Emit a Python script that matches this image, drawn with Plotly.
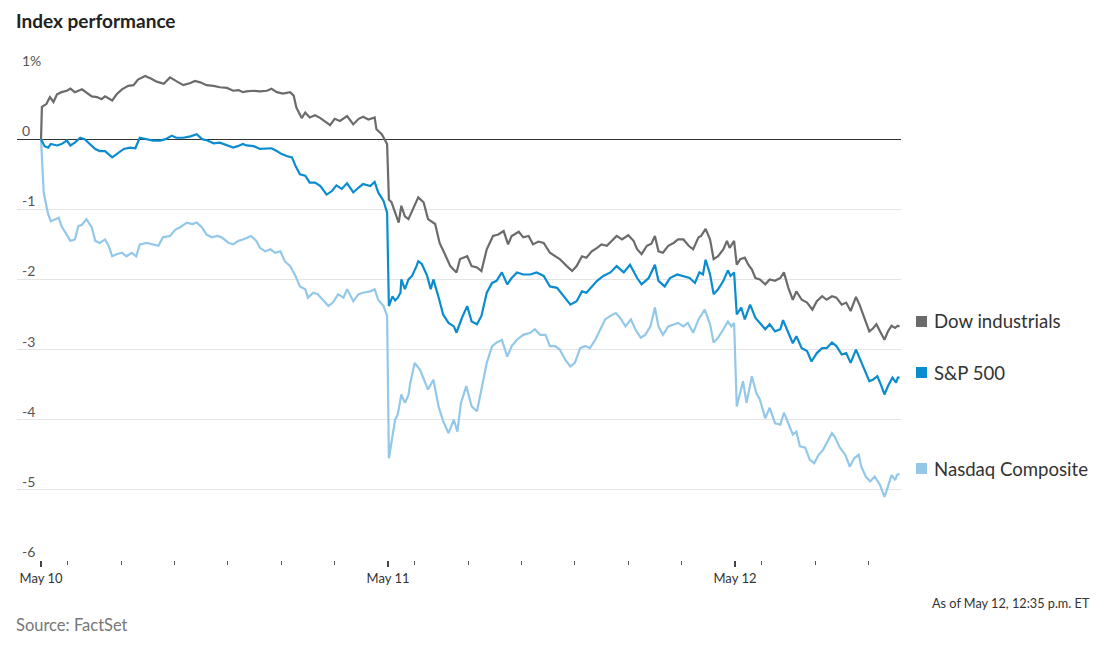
import plotly.graph_objects as go

# ---------------- data (trading minutes since May 10 open, % change) ----------------
day_labels = ["May 10", "May 11", "May 12"]
day_open_min = [0, 390, 780]
hour_marks = [10, 11, 12, 13, 14, 15]
last_min = 965  # May 12, 12:35 p.m.

y_ticks = [1, 0, -1, -2, -3, -4, -5, -6]
y_labels = ["1%", "0", "-1", "-2", "-3", "-4", "-5", "-6"]

dow_min = [0, 1, 6, 10, 14, 18, 23, 29, 33, 38, 46, 51, 57, 63, 68, 72, 80, 85, 91, 98,
           104, 109, 117, 124, 130, 138, 145, 153, 160, 168, 173, 179, 186, 194, 201, 209,
           216, 222, 227, 231, 239, 246, 254, 259, 265, 272, 280, 284, 287, 293, 297, 302,
           308, 314, 319, 325, 330, 336, 344, 351, 357, 362, 368, 375, 377, 383, 389,
           391, 394, 398, 402, 405, 409, 413, 417, 424, 430, 435, 443, 448, 454, 460, 467,
           471, 479, 484, 490, 495, 501, 508, 514, 520, 525, 529, 537, 542, 548, 553, 559,
           565, 572, 578, 583, 591, 597, 602, 608, 613, 619, 625, 630, 636, 641, 647, 653,
           660, 666, 670, 675, 681, 686, 690, 694, 699, 705, 711, 716, 722, 728, 733, 739,
           742, 747, 752, 756, 761, 767, 771, 774, 779,
           782, 786, 791, 795, 799, 803, 808, 814, 819, 825, 831, 835, 840, 845, 849, 855,
           861, 867, 872, 878, 883, 889, 894, 900, 905, 910, 916, 920, 926, 931, 935, 939,
           943, 948, 952, 956, 960, 963, 965]
dow_pct = [0, 0.46, 0.50, 0.60, 0.53, 0.64, 0.67, 0.69, 0.72, 0.67, 0.71, 0.67, 0.61, 0.60,
           0.57, 0.61, 0.55, 0.64, 0.71, 0.76, 0.77, 0.85, 0.90, 0.86, 0.82, 0.79, 0.88,
           0.82, 0.77, 0.80, 0.83, 0.81, 0.77, 0.76, 0.74, 0.73, 0.69, 0.70, 0.67, 0.68,
           0.69, 0.68, 0.69, 0.72, 0.67, 0.65, 0.67, 0.62, 0.45, 0.30, 0.38, 0.31, 0.34,
           0.30, 0.26, 0.20, 0.29, 0.26, 0.33, 0.21, 0.29, 0.32, 0.28, 0.31, 0.14, 0.07, -0.07,
           -0.86, -0.90, -1.04, -1.19, -0.95, -1.10, -1.14, -1.02, -0.83, -0.90, -1.14, -1.21,
           -1.48, -1.64, -1.81, -1.90, -1.71, -1.67, -1.81, -1.83, -1.88, -1.57, -1.38, -1.36,
           -1.31, -1.50, -1.38, -1.32, -1.40, -1.38, -1.50, -1.46, -1.48, -1.62, -1.67, -1.71,
           -1.81, -1.88, -1.81, -1.67, -1.69, -1.60, -1.55, -1.50, -1.52, -1.45, -1.38, -1.43,
           -1.37, -1.45, -1.57, -1.64, -1.52, -1.49, -1.38, -1.60, -1.62, -1.52, -1.48, -1.43,
           -1.43, -1.52, -1.57, -1.40, -1.38, -1.28, -1.43, -1.71, -1.67, -1.57, -1.45, -1.55,
           -1.45,
           -1.79, -1.71, -1.69, -1.79, -1.86, -1.98, -2.00, -2.07, -2.00, -2.02, -1.98, -1.90,
           -2.12, -2.29, -2.17, -2.29, -2.33, -2.43, -2.31, -2.24, -2.29, -2.24, -2.26, -2.36,
           -2.33, -2.45, -2.25, -2.36, -2.57, -2.74, -2.70, -2.64, -2.74, -2.86, -2.74, -2.66,
           -2.69, -2.66, -2.67]

sp_min = [0, 4, 8, 11, 18, 23, 29, 33, 38, 44, 49, 55, 61, 66, 72, 80, 85, 93, 100, 106,
          111, 119, 126, 134, 140, 147, 152, 160, 168, 175, 181, 187, 194, 201, 209, 216,
          221, 227, 231, 239, 246, 254, 259, 265, 270, 276, 282, 286, 291, 297, 302, 308,
          314, 321, 327, 332, 338, 344, 351, 357, 362, 370, 375, 379, 385, 389,
          391, 395, 398, 401, 404, 405, 409, 413, 417, 422, 424, 428, 434, 438, 441, 447,
          452, 458, 464, 467, 473, 479, 484, 490, 495, 501, 507, 512, 518, 524, 529, 535,
          542, 550, 557, 565, 572, 580, 587, 595, 602, 608, 613, 619, 625, 632, 640, 647,
          655, 662, 670, 675, 683, 690, 694, 701, 707, 715, 722, 729, 735, 740, 744, 747,
          752, 756, 761, 767, 772, 775, 779,
          782, 787, 791, 797, 803, 808, 814, 819, 825, 831, 834, 840, 845, 849, 855, 861,
          866, 872, 878, 883, 889, 894, 900, 905, 910, 916, 920, 925, 931, 935, 940, 944,
          948, 952, 957, 961, 963, 965]
sp_pct = [0, -0.10, -0.12, -0.07, -0.09, -0.07, -0.02, -0.09, -0.05, 0.02, 0.00, -0.07,
          -0.14, -0.17, -0.17, -0.26, -0.21, -0.14, -0.12, -0.13, 0.02, 0.00, -0.02, -0.02,
          0.00, 0.05, 0.02, 0.02, 0.04, 0.07, 0.00, -0.02, -0.06, -0.05, -0.09, -0.12, -0.10,
          -0.07, -0.09, -0.10, -0.14, -0.14, -0.13, -0.17, -0.21, -0.24, -0.26, -0.38, -0.50,
          -0.52, -0.62, -0.62, -0.67, -0.79, -0.74, -0.66, -0.71, -0.63, -0.76, -0.69, -0.64,
          -0.67, -0.61, -0.76, -0.88, -1.05,
          -2.38, -2.24, -2.30, -2.26, -2.19, -2.00, -2.14, -2.00, -1.95, -1.81, -1.74, -1.78,
          -1.95, -2.14, -2.00, -2.26, -2.50, -2.62, -2.67, -2.76, -2.55, -2.38, -2.60, -2.64,
          -2.52, -2.19, -2.05, -2.02, -1.90, -2.07, -1.98, -1.90, -1.93, -1.93, -1.90, -1.95,
          -2.10, -2.12, -2.24, -2.36, -2.31, -2.17, -2.19, -2.10, -2.02, -1.95, -1.90, -1.81,
          -1.90, -1.79, -1.98, -2.07, -1.98, -1.79, -2.02, -2.10, -1.98, -1.93, -1.95, -1.98,
          -2.05, -1.90, -1.93, -1.72, -1.93, -2.21, -2.14, -2.02, -1.87, -1.95, -1.90,
          -2.50, -2.40, -2.57, -2.36, -2.55, -2.62, -2.71, -2.64, -2.74, -2.71, -2.58, -2.76,
          -2.91, -2.81, -2.98, -3.02, -3.17, -3.05, -2.98, -2.98, -2.90, -2.95, -3.07, -3.05,
          -3.19, -3.00, -3.12, -3.29, -3.45, -3.43, -3.38, -3.50, -3.64, -3.52, -3.40, -3.47,
          -3.40, -3.40]

nas_min = [0, 2, 3, 6, 8, 11, 16, 20, 23, 27, 33, 38, 42, 46, 51, 57, 61, 66, 72, 76, 80,
           85, 91, 96, 102, 107, 111, 119, 126, 132, 137, 145, 151, 156, 164, 170, 175, 181,
           186, 192, 198, 203, 211, 216, 222, 227, 236, 242, 246, 252, 258, 263, 269, 274,
           280, 286, 291, 297, 300, 306, 311, 317, 323, 328, 334, 340, 344, 351, 357, 362,
           370, 375, 379, 385, 389,
           391, 394, 396, 398, 401, 405, 409, 413, 415, 420, 426, 431, 435, 441, 447, 452,
           458, 464, 468, 472, 478, 484, 490, 495, 501, 507, 512, 518, 524, 529, 535, 542,
           550, 555, 561, 567, 572, 578, 583, 589, 595, 600, 606, 612, 617, 623, 629, 634,
           640, 646, 651, 657, 663, 668, 674, 679, 685, 690, 694, 699, 705, 711, 716, 722,
           727, 733, 739, 746, 752, 756, 761, 767, 772, 776, 779,
           782, 786, 789, 793, 799, 804, 808, 814, 819, 825, 831, 835, 840, 845, 849, 853,
           859, 864, 869, 874, 879, 885, 889, 892, 898, 904, 909, 914, 919, 922, 927, 932,
           937, 943, 948, 952, 956, 960, 962, 965]
nas_pct = [0, -0.43, -0.76, -0.95, -1.07, -1.17, -1.14, -1.12, -1.24, -1.33, -1.45, -1.43,
           -1.24, -1.22, -1.14, -1.26, -1.45, -1.48, -1.43, -1.52, -1.67, -1.64, -1.62, -1.67,
           -1.62, -1.67, -1.50, -1.48, -1.50, -1.52, -1.40, -1.38, -1.29, -1.26, -1.19, -1.21,
           -1.19, -1.26, -1.36, -1.40, -1.38, -1.40, -1.48, -1.50, -1.45, -1.43, -1.38, -1.45,
           -1.55, -1.60, -1.57, -1.62, -1.60, -1.74, -1.81, -1.95, -2.10, -2.14, -2.26, -2.19,
           -2.21, -2.29, -2.38, -2.33, -2.21, -2.26, -2.14, -2.31, -2.21, -2.19, -2.17, -2.14,
           -2.29, -2.38, -2.52,
           -4.55, -4.33, -4.19, -4.00, -3.92, -3.64, -3.76, -3.65, -3.48, -3.19, -3.29, -3.45,
           -3.57, -3.43, -3.82, -4.02, -4.19, -4.00, -4.17, -3.76, -3.52, -3.81, -3.88, -3.57,
           -3.19, -2.95, -2.90, -2.86, -3.10, -2.95, -2.86, -2.79, -2.76, -2.71, -2.79, -2.79,
           -2.95, -2.95, -3.00, -3.14, -3.24, -3.19, -2.98, -2.95, -2.98, -2.86, -2.71, -2.57,
           -2.52, -2.48, -2.55, -2.67, -2.57, -2.71, -2.83, -2.79, -2.67, -2.40, -2.67, -2.79,
           -2.67, -2.64, -2.62, -2.67, -2.62, -2.76, -2.57, -2.43, -2.64, -2.90, -2.83, -2.71,
           -2.60, -2.67, -2.62,
           -3.81, -3.62, -3.45, -3.76, -3.38, -3.62, -3.71, -3.98, -3.83, -4.05, -4.07, -3.90,
           -4.05, -4.21, -4.17, -4.38, -4.40, -4.57, -4.62, -4.50, -4.43, -4.29, -4.19, -4.24,
           -4.40, -4.50, -4.67, -4.55, -4.50, -4.67, -4.81, -4.88, -4.81, -4.93, -5.10, -4.95,
           -4.79, -4.86, -4.79, -4.77]

series_names = ["Dow industrials", "S&P 500", "Nasdaq Composite"]
series_colors = ["#6b6b6b", "#0a8ccf", "#93c8e9"]
series_x = [dow_min, sp_min, nas_min]
series_y = [dow_pct, sp_pct, nas_pct]

# ---------------- figure ----------------
# the page body has an 8px margin, so the figure is sized/positioned accordingly
W, H = 1093, 654
ml, mt = 9, 61
plot_right, plot_bottom = 892.6, 552
mr, mb = W - plot_right, H - plot_bottom
pw, ph = plot_right - ml, plot_bottom - mt
x_range = [-27, 966.6]
FONT = "Lato"

fig = go.Figure()
for i in [2, 1, 0]:
    fig.add_trace(go.Scatter(
        x=series_x[i], y=series_y[i], mode="lines", name=series_names[i],
        line=dict(color=series_colors[i], width=2.2), hoverinfo="skip", showlegend=False))

hour_ticks = [d + (h * 60 - 570) for d in day_open_min for h in hour_marks
              if d + (h * 60 - 570) <= last_min]
fig.add_trace(go.Scatter(x=[x_range[0]], y=[0], xaxis="x2", mode="markers",
                         marker=dict(opacity=0), hoverinfo="skip", showlegend=False))

fig.update_layout(
    width=W, height=H, autosize=False,
    margin=dict(l=ml, r=mr, t=mt, b=mb, pad=0),
    paper_bgcolor="white", plot_bgcolor="white",
    font=dict(family=FONT, color="#333333"),
    title=dict(text="<b>Index performance</b>", xref="container", yref="container",
               x=8 / W, xanchor="left", y=1 - 13 / H, yanchor="middle",
               font=dict(size=19, color="#222222", family=FONT)),
    xaxis=dict(range=x_range, tickvals=day_open_min, ticktext=day_labels,
               ticks="outside", ticklen=6, tickwidth=1.5, tickcolor="#444444",
               showgrid=False, zeroline=False, showline=False,
               tickfont=dict(size=13, color="#333333", family=FONT)),
    xaxis2=dict(range=x_range, overlaying="x", anchor="y", side="bottom",
                tickvals=hour_ticks, ticks="outside", ticklen=4, tickwidth=1,
                tickcolor="#555555", showticklabels=False, showgrid=False,
                zeroline=False, showline=False),
    yaxis=dict(range=[-6, 1], tickvals=y_ticks, showticklabels=False, ticks="",
               showgrid=True, gridcolor="#e4e4e4", gridwidth=1,
               zeroline=True, zerolinecolor="#333333", zerolinewidth=1.2,
               showline=False),
)

# y tick labels sitting above their gridlines
for v, lab in zip(y_ticks, y_labels):
    fig.add_annotation(xref="paper", yref="y", x=0, y=v, xanchor="left", yanchor="bottom",
                       xshift=3, yshift=-2, showarrow=False, text=lab,
                       font=dict(size=14, color="#555555", family=FONT))

# end labels with coloured squares
for i in range(3):
    fig.add_annotation(
        x=series_x[i][-1], y=series_y[i][-1], xref="x", yref="y",
        xanchor="left", yanchor="middle", xshift=16.5, yshift=5, showarrow=False,
        text="", width=11, height=11, bgcolor=series_colors[i], borderpad=0, borderwidth=0)
    fig.add_annotation(
        x=series_x[i][-1], y=series_y[i][-1], xref="x", yref="y",
        xanchor="left", yanchor="middle", xshift=32, yshift=5, showarrow=False,
        text=series_names[i], font=dict(size=18.6, color="#333333", family=FONT),
        align="left")

fig.add_annotation(xref="paper", yref="paper", x=(8 - ml) / pw, y=(plot_bottom - 617) / ph,
                   xanchor="left", yanchor="middle", xshift=-2, showarrow=False,
                   text="Source: FactSet", font=dict(size=16.5, color="#777777", family=FONT))
fig.add_annotation(xref="paper", yref="paper", x=(1082 - ml) / pw, y=(plot_bottom - 595) / ph,
                   xanchor="right", yanchor="middle", xshift=2, showarrow=False,
                   text="As of May 12, 12:35 p.m. ET",
                   font=dict(size=12.7, color="#333333", family=FONT))

fig.write_html("out.html")
